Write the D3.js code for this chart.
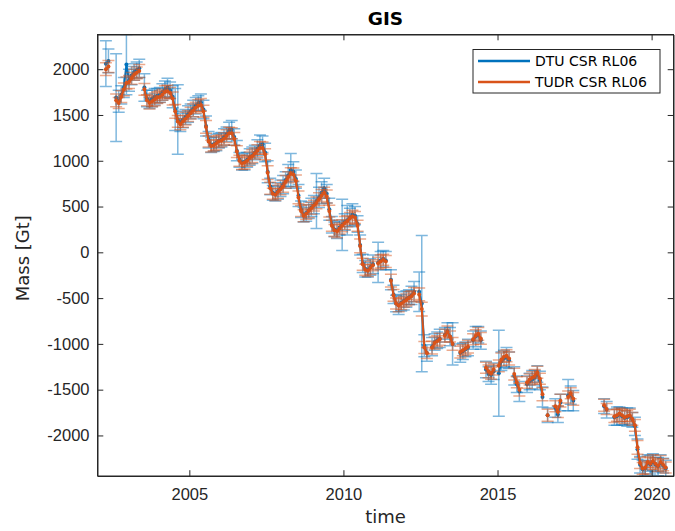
<!DOCTYPE html>
<html>
<head>
<meta charset="utf-8">
<script src="https://cdn.jsdelivr.net/npm/d3@7"></script>
<style>
  body { margin: 0; background: #fff; }
  svg { font-family: "DejaVu Sans", sans-serif; }
  .axis path, .axis line { stroke: #262626; }
  .axis text { fill: #262626; font-size: 16.5px; }
</style>
</head>
<body>
<svg id="chart" width="675" height="531"></svg>
<script>
// monthly solutions, missing months left out (line breaks there)
var months = [
  "2002-04","2002-05","2002-08","2002-09","2002-10","2002-11","2002-12",
  "2003-01","2003-02","2003-03","2003-04","2003-05","2003-07","2003-08","2003-09","2003-10","2003-11","2003-12",
  "2004-01","2004-02","2004-03","2004-04","2004-05","2004-06","2004-07","2004-08","2004-09","2004-10","2004-11","2004-12",
  "2005-01","2005-02","2005-03","2005-04","2005-05","2005-06","2005-07","2005-08","2005-09","2005-10","2005-11","2005-12",
  "2006-01","2006-02","2006-03","2006-04","2006-05","2006-06","2006-07","2006-08","2006-09","2006-10","2006-11","2006-12",
  "2007-01","2007-02","2007-03","2007-04","2007-05","2007-06","2007-07","2007-08","2007-09","2007-10","2007-11","2007-12",
  "2008-01","2008-02","2008-03","2008-04","2008-05","2008-06","2008-07","2008-08","2008-09","2008-10","2008-11","2008-12",
  "2009-01","2009-02","2009-03","2009-04","2009-05","2009-06","2009-07","2009-08","2009-09","2009-10","2009-11","2009-12",
  "2010-01","2010-02","2010-03","2010-04","2010-05","2010-06","2010-07","2010-08","2010-09","2010-10","2010-11","2010-12",
  "2011-02","2011-03","2011-04","2011-05","2011-07","2011-08","2011-09","2011-10","2011-11","2011-12",
  "2012-01","2012-02","2012-03","2012-04","2012-06","2012-07","2012-08","2012-09","2012-11","2012-12",
  "2013-01","2013-02","2013-04","2013-05","2013-06","2013-07","2013-10","2013-11","2013-12",
  "2014-01","2014-03","2014-04","2014-05","2014-06","2014-08","2014-09","2014-10","2014-11",
  "2015-01","2015-02","2015-03","2015-04","2015-05","2015-07","2015-08","2015-09","2015-12",
  "2016-01","2016-02","2016-03","2016-04","2016-05","2016-06","2016-08","2016-11","2016-12",
  "2017-01","2017-04","2017-05","2017-06",
  "2018-06","2018-07","2018-10","2018-11","2018-12",
  "2019-01","2019-02","2019-03","2019-04","2019-05","2019-06","2019-07","2019-08","2019-09","2019-10","2019-11","2019-12",
  "2020-01","2020-02","2020-03","2020-04","2020-05","2020-06"
];

var dtuMass = [
  2060, 2090, 1690, 1650, 1720, 1800, 2050,
  1880, 1930, 1970, 1990, 2010, 1800, 1680, 1650, 1680, 1700, 1710,
  1720, 1750, 1780, 1800, 1770, 1700, 1560, 1450, 1420, 1450, 1480, 1510,
  1540, 1570, 1600, 1630, 1640, 1560, 1380, 1230, 1170, 1180, 1200, 1220,
  1230, 1260, 1290, 1330, 1340, 1260, 1110, 1010, 980, 990, 1010, 1040,
  1060, 1090, 1130, 1170, 1180, 1090, 880, 720, 650, 640, 670, 700,
  740, 790, 840, 900, 880, 800, 620, 470, 410, 430, 460, 490,
  520, 560, 600, 650, 700, 640, 470, 300, 250, 240, 270, 300,
  330, 350, 380, 410, 400, 310, 80, -120, -180, -190, -160, -130,
  -110, -90, -70, -90, -300, -460, -560, -580, -550, -530,
  -510, -490, -470, -430, -430, -560, -1020, -1100, -1030, -980,
  -960, -940, -900, -860, -920, -1000, -1100, -1080, -1060,
  -1040, -960, -920, -900, -960, -1280, -1330, -1340, -1300,
  -1320, -1190, -1160, -1150, -1180, -1350, -1440, -1520, -1440,
  -1410, -1390, -1370, -1330, -1400, -1580, -1780, -1700, -1770,
  -1640, -1560, -1560, -1620,
  -1680, -1720, -1800, -1790, -1770,
  -1790, -1810, -1800, -1790, -1830, -1900, -2150, -2320, -2370, -2360, -2300, -2320,
  -2290, -2320, -2340, -2300, -2330, -2360
];

var tudrMass = [
  2000, 2030, 1660, 1630, 1700, 1780, 1850,
  1860, 1900, 1940, 1960, 1980, 1780, 1660, 1630, 1650, 1670, 1690,
  1700, 1720, 1750, 1760, 1740, 1680, 1540, 1430, 1400, 1430, 1460, 1490,
  1520, 1550, 1580, 1600, 1610, 1540, 1370, 1210, 1160, 1170, 1190, 1210,
  1220, 1240, 1270, 1300, 1300, 1240, 1100, 1000, 970, 980, 1000, 1030,
  1050, 1080, 1110, 1140, 1140, 1070, 870, 700, 640, 630, 660, 690,
  720, 770, 820, 860, 850, 780, 600, 450, 400, 420, 450, 480,
  510, 540, 580, 620, 650, 610, 450, 290, 240, 230, 260, 290,
  320, 340, 370, 390, 380, 290, 70, -130, -190, -200, -170, -140,
  -120, -100, -80, -100, -310, -470, -560, -580, -560, -540,
  -520, -500, -480, -450, -460, -620, -1040, -1100, -1040, -990,
  -970, -950, -910, -870, -920, -1000, -1090, -1070, -1050,
  -1030, -950, -910, -890, -940, -1260, -1300, -1320, -1280,
  -1240, -1170, -1140, -1130, -1160, -1330, -1420, -1500, -1420,
  -1390, -1370, -1350, -1310, -1380, -1550, -1780, -1680, -1740,
  -1620, -1580, -1540, -1600,
  -1670, -1710, -1790, -1780, -1760,
  -1780, -1800, -1790, -1780, -1820, -1890, -2130, -2300, -2360, -2350, -2290, -2310,
  -2280, -2310, -2330, -2290, -2320, -2350
];

var dtuErr = [
  250, 130, 480, 120, 100, 110, 330,
  120, 100, 90, 90, 100, 150, 90, 80, 90, 90, 80,
  80, 90, 90, 100, 90, 120, 230, 380, 100, 90, 80, 90,
  80, 90, 90, 80, 90, 100, 110, 90, 80, 80, 90, 80,
  80, 90, 80, 90, 100, 90, 110, 80, 80, 90, 80, 90,
  90, 80, 100, 110, 90, 100, 120, 90, 80, 80, 90, 90,
  100, 90, 120, 180, 110, 100, 120, 90, 80, 90, 90, 100,
  100, 300, 110, 120, 110, 100, 120, 90, 80, 90, 80, 280,
  90, 160, 100, 120, 100, 90, 110, 100, 90, 80, 90, 100,
  220, 100, 90, 100, 110, 100, 90, 100, 90, 100,
  90, 80, 100, 110, 215, 745, 120, 90, 100, 90,
  90, 100, 80, 90, 100, 230, 100, 90, 80,
  90, 100, 110, 90, 100, 90, 80, 100, 90,
  470, 100, 90, 110, 90, 100, 90, 110, 90,
  90, 100, 80, 90, 100, 110, 80, 100, 90,
  90, 170, 100, 110,
  80, 90, 90, 100, 80,
  90, 80, 100, 90, 80, 100, 110, 90, 100, 80, 90, 100,
  90, 80, 100, 90, 80, 90
];

var tudrErr = [
  70, 65, 70, 60, 65, 70, 65,
  70, 65, 60, 65, 70, 65, 60, 65, 60, 70, 65,
  65, 60, 70, 65, 60, 70, 75, 65, 60, 65, 70, 60,
  65, 70, 60, 65, 70, 65, 70, 60, 65, 60, 70, 65,
  60, 65, 70, 65, 60, 70, 65, 60, 65, 70, 60, 65,
  70, 60, 65, 70, 65, 60, 75, 65, 60, 65, 70, 60,
  65, 70, 60, 65, 70, 65, 70, 60, 65, 60, 70, 65,
  60, 65, 70, 65, 60, 70, 65, 60, 65, 70, 60, 65,
  70, 60, 65, 70, 65, 60, 75, 65, 60, 65, 70, 60,
  65, 70, 60, 65, 70, 65, 60, 70, 65, 60,
  65, 70, 60, 65, 70, 75, 65, 60, 70, 65,
  60, 65, 70, 65, 60, 70, 65, 60, 65,
  70, 60, 65, 70, 65, 60, 70, 65, 60,
  65, 70, 60, 65, 70, 65, 60, 70, 65,
  60, 65, 70, 65, 60, 70, 65, 60, 65,
  70, 65, 60, 70,
  65, 60, 70, 65, 60,
  65, 70, 60, 65, 70, 65, 75, 60, 65, 70, 60, 65,
  70, 60, 65, 70, 65, 60
];

var seriesNames = ["DTU CSR RL06", "TUDR CSR RL06"];
var seriesColors = ["#0072BD", "#D95319"];
var xTicks = [2005, 2010, 2015, 2020];
var yTicks = [-2000, -1500, -1000, -500, 0, 500, 1000, 1500, 2000];

var margin = {top: 34.5, right: 1.5, bottom: 55, left: 97.5};
var width = 675 - margin.left - margin.right;
var height = 531 - margin.top - margin.bottom;

function decYear(m) {
  return +m.slice(0, 4) + (+m.slice(5, 7) - 0.5) / 12;
}
function monthIndex(m) {
  return +m.slice(0, 4) * 12 + (+m.slice(5, 7));
}

var x = d3.scaleLinear().domain([2002.02, 2020.71]).range([0, width]);
var y = d3.scaleLinear().domain([-2443, 2379]).range([height, 0]);

var svg = d3.select("#chart");
var g = svg.append("g")
  .attr("transform", "translate(" + margin.left + "," + margin.top + ")");

g.append("clipPath").attr("id", "clip")
  .append("rect").attr("width", width).attr("height", height);

var plot = g.append("g").attr("clip-path", "url(#clip)");

function buildSeries(vals, errs) {
  return months.map(function(m, i) {
    var gap = i > 0 && monthIndex(m) - monthIndex(months[i - 1]) > 1;
    return {t: decYear(m), v: vals[i], e: errs[i], gap: gap};
  });
}

var series = [buildSeries(dtuMass, dtuErr), buildSeries(tudrMass, tudrErr)];

series.forEach(function(data, k) {
  var col = seriesColors[k];
  var cap = 6;

  plot.append("g")
    .selectAll("path")
    .data(data)
    .join("path")
    .attr("d", function(d) {
      var px = x(d.t), y0 = y(d.v - d.e), y1 = y(d.v + d.e);
      return "M" + px + "," + y0 + "V" + y1 +
        "M" + (px - cap) + "," + y0 + "H" + (px + cap) +
        "M" + (px - cap) + "," + y1 + "H" + (px + cap);
    })
    .attr("fill", "none")
    .attr("stroke", col)
    .attr("stroke-width", 1.5)
    .attr("stroke-opacity", 0.5);

  // split into runs of consecutive months
  var runs = [];
  data.forEach(function(d) {
    if (!runs.length || d.gap) runs.push([]);
    runs[runs.length - 1].push(d);
  });

  var line = d3.line()
    .x(function(d) { return x(d.t); })
    .y(function(d) { return y(d.v); });

  plot.append("g")
    .selectAll("path")
    .data(runs)
    .join("path")
    .attr("d", line)
    .attr("fill", "none")
    .attr("stroke", col)
    .attr("stroke-width", 2);

  plot.append("g")
    .selectAll("circle")
    .data(data)
    .join("circle")
    .attr("cx", function(d) { return x(d.t); })
    .attr("cy", function(d) { return y(d.v); })
    .attr("r", 2)
    .attr("fill", col);
});

// axes with inward ticks on all four sides
var tl = 5.8;
g.append("g").attr("class", "axis")
  .attr("transform", "translate(0," + height + ")")
  .call(d3.axisBottom(x).tickValues(xTicks).tickFormat(d3.format("d"))
    .tickSizeInner(-tl).tickSizeOuter(0).tickPadding(12));
g.append("g").attr("class", "axis")
  .call(d3.axisTop(x).tickValues(xTicks).tickFormat("")
    .tickSizeInner(-tl).tickSizeOuter(0));
g.append("g").attr("class", "axis")
  .call(d3.axisLeft(y).tickValues(yTicks).tickFormat(d3.format("d"))
    .tickSizeInner(-tl).tickSizeOuter(0).tickPadding(8));
g.append("g").attr("class", "axis")
  .attr("transform", "translate(" + width + ",0)")
  .call(d3.axisRight(y).tickValues(yTicks).tickFormat("")
    .tickSizeInner(-tl).tickSizeOuter(0));

g.selectAll(".axis text").text(function() {
  return this.textContent.replace("\u2212", "-");
});

g.append("rect")
  .attr("width", width).attr("height", height)
  .attr("fill", "none").attr("stroke", "#262626").attr("stroke-width", 1);

g.append("text")
  .attr("x", width / 2).attr("y", -10)
  .attr("text-anchor", "middle")
  .attr("font-size", 18.5).attr("font-weight", "bold").attr("fill", "#000")
  .text("GIS");

g.append("text")
  .attr("x", width / 2).attr("y", height + 47)
  .attr("text-anchor", "middle")
  .attr("font-size", 18).attr("fill", "#262626")
  .text("time");

g.append("text")
  .attr("transform", "translate(" + (-69) + "," + (height / 2 + 3) + ") rotate(-90)")
  .attr("text-anchor", "middle")
  .attr("font-size", 18).attr("fill", "#262626")
  .text("Mass [Gt]");

// legend
var lg = g.append("g")
  .attr("transform", "translate(" + (x.range()[1] - 200.5) + ",15)");
lg.append("rect")
  .attr("width", 187).attr("height", 43.5)
  .attr("fill", "#fff").attr("stroke", "#262626").attr("stroke-width", 1);
seriesNames.forEach(function(name, i) {
  var ly = 11.5 + i * 21;
  lg.append("line")
    .attr("x1", 5).attr("x2", 57).attr("y1", ly).attr("y2", ly)
    .attr("stroke", seriesColors[i]).attr("stroke-width", 2.5);
  lg.append("text")
    .attr("x", 62).attr("y", ly + 5)
    .attr("font-size", 14).attr("fill", "#000")
    .text(name);
});
</script>
</body>
</html>
